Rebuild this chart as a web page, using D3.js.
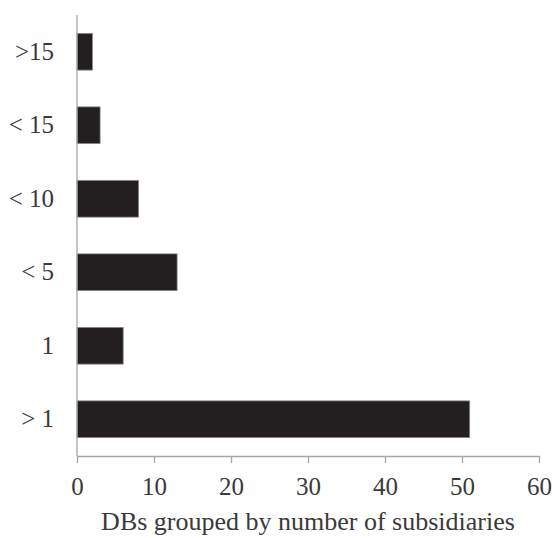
<!DOCTYPE html>
<html><head><meta charset="utf-8">
<script src="https://cdn.jsdelivr.net/npm/d3@7"></script>
<style>body{margin:0;background:#fff}</style>
</head><body>
<svg id="c" width="556" height="538"></svg>
<script>
const categories = [">15", "< 15", "< 10", "< 5", "1", "> 1"];
const values = [2, 3, 8, 13, 6, 51];
const xTicks = [0, 10, 20, 30, 40, 50, 60];
const xLabel = "DBs grouped by number of subsidiaries";

(function () {
const svg = d3.select("#c");
const mLeft = 77, mRight = 539, mTop = 15, mBottom = 456;
const x = d3.scaleLinear().domain([0, 60]).range([mLeft, mRight]);
const y = d3.scaleBand().domain(categories).range([mTop, mBottom]).paddingInner(0.5).paddingOuter(0.25);
const font = "'Liberation Serif', 'Times New Roman', serif";
const axisCol = "#a6a6a6";
const textCol = "#3a3a3a";

svg.selectAll("rect.bar").data(values).join("rect")
  .attr("class", "bar")
  .attr("x", x(0))
  .attr("y", (d, i) => y(categories[i]))
  .attr("width", d => x(d) - x(0))
  .attr("height", y.bandwidth())
  .attr("fill", "#231f20")
  .attr("stroke", "#8c8a8b")
  .attr("stroke-width", 0.8);

const xa = svg.append("g").attr("transform", `translate(0,${mBottom})`)
  .call(d3.axisBottom(x).tickValues(xTicks).tickSize(7).tickSizeOuter(0));
xa.select(".domain").attr("stroke", axisCol).attr("stroke-width", 1.3);
xa.selectAll(".tick line").attr("stroke", axisCol).attr("stroke-width", 1.3);
xa.selectAll(".tick text").attr("font-family", font).attr("font-size", 25).attr("fill", textCol)
  .attr("y", 39).attr("dy", 0);

const ya = svg.append("g").attr("transform", `translate(${mLeft},0)`)
  .call(d3.axisLeft(y).tickSize(0).tickPadding(23));
ya.select(".domain").attr("stroke", axisCol).attr("stroke-width", 1.3).attr("d", `M0,${mTop}V${mBottom}`);
ya.selectAll(".tick text").attr("font-family", font).attr("font-size", 25).attr("fill", textCol);

svg.append("text").attr("x", 308).attr("y", 530)
  .attr("text-anchor", "middle").attr("font-family", font).attr("font-size", 26)
  .attr("fill", textCol).text(xLabel);
})();
</script>
</body></html>
